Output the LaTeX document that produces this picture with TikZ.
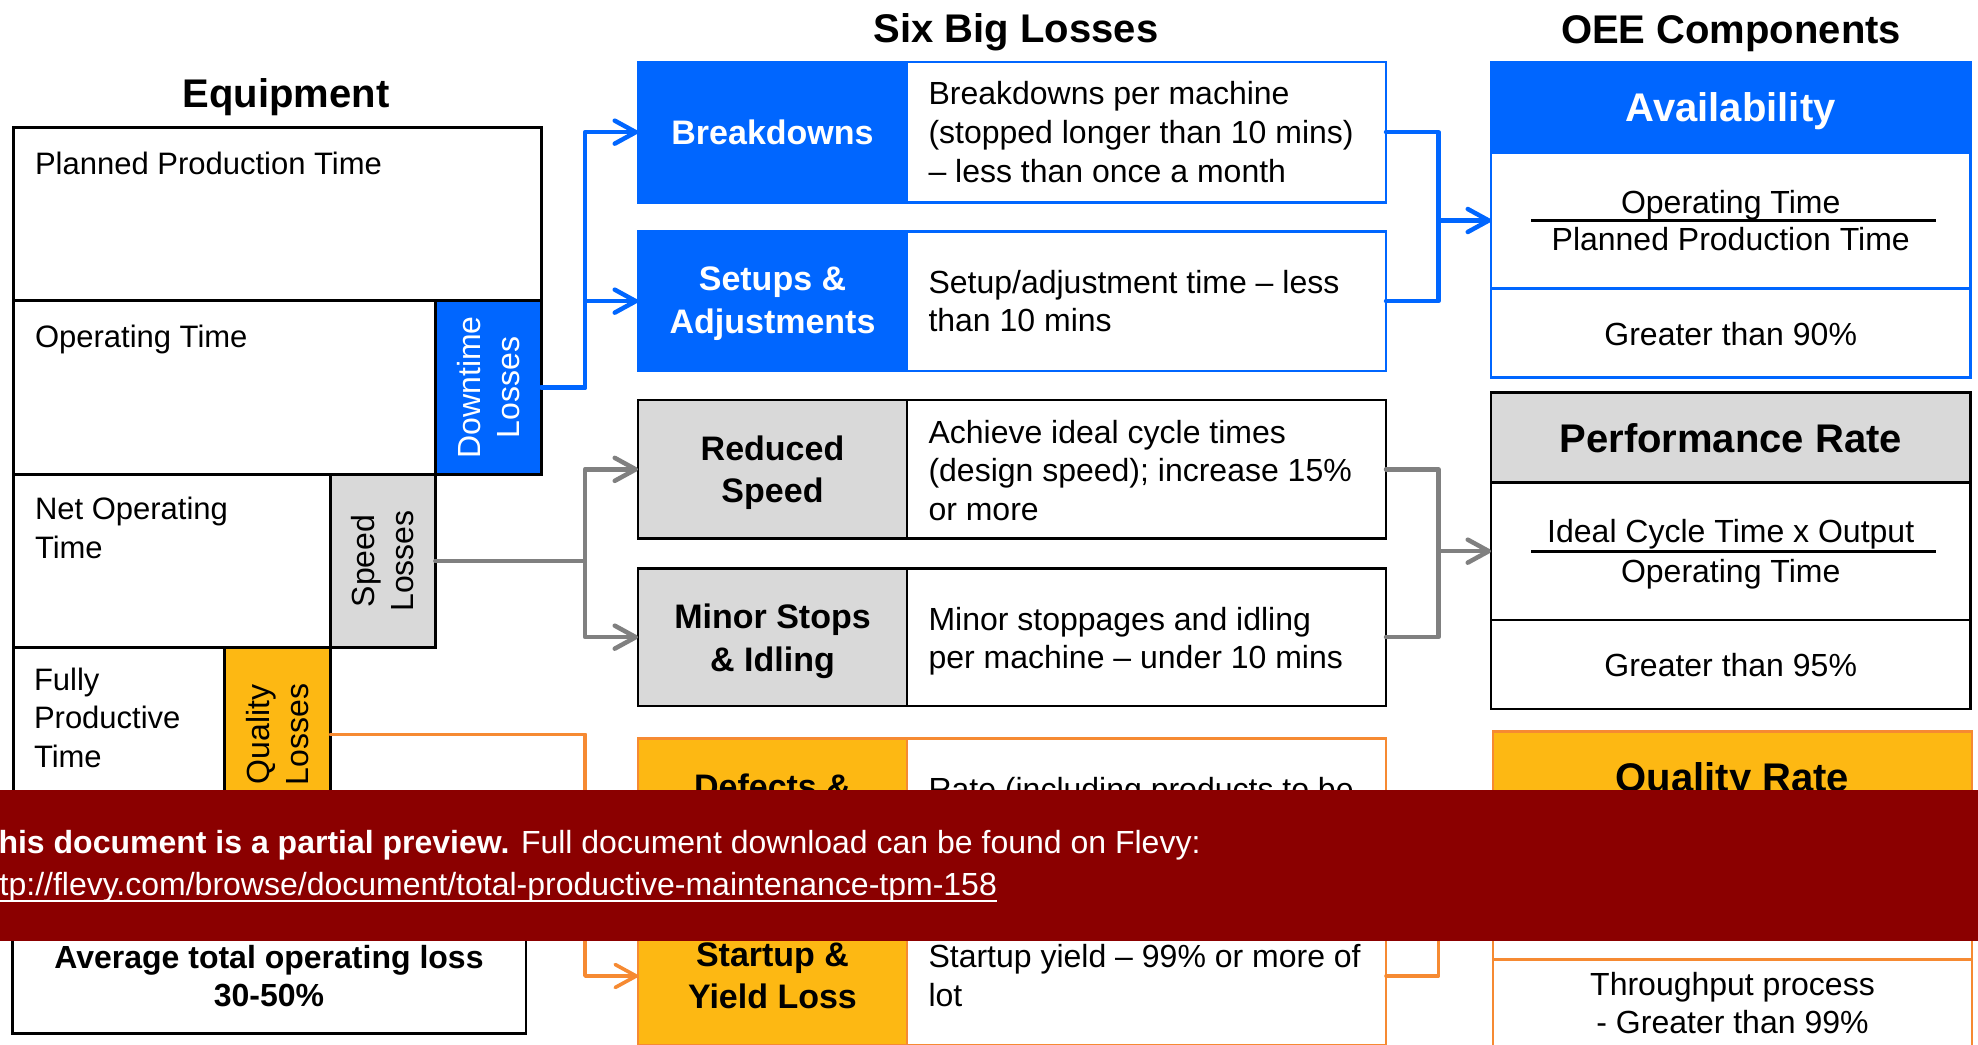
\documentclass[tikz,border=0pt]{standalone}
\usepackage{fontspec}
\setmainfont{Liberation Sans}
\usetikzlibrary{arrows.meta}

\definecolor{oeeblue}{HTML}{0066FF}
\definecolor{lossgrey}{HTML}{D9D9D9}
\definecolor{wiregrey}{HTML}{808080}
\definecolor{lossgold}{HTML}{FDB813}
\definecolor{wireorange}{HTML}{F68A32}
\definecolor{bannerred}{HTML}{8B0000}

\newcommand\bodyfnt{\fontsize{32}{38}\selectfont}
\newcommand\eqfnt{\fontsize{31}{39}\selectfont}
\newcommand\rotfnt{\fontsize{32}{39}\selectfont}
\newcommand\labfnt{\fontsize{34}{42}\selectfont\bfseries}
\newcommand\headfnt{\fontsize{40}{48}\selectfont\bfseries}
% rectangle node from its two corners: name, x1, y1, x2, y2, style
\newcommand\cellbox[6]{\node[#6, minimum width={#4-#2}, minimum height={#5-#3}] (#1) at (#2,#3) {};}

\begin{document}
\begin{tikzpicture}[x=1pt, y=-1pt,
  cell/.style={draw, line width=2.8pt, inner sep=0pt, outer sep=0pt, anchor=north west, fill=white},
  blackcell/.style={cell, draw=black},
  bluecell/.style={cell, draw=oeeblue},
  orangecell/.style={cell, draw=wireorange},
  lefttext/.style={inner sep=0pt, outer sep=0pt, anchor=base west},
  midtext/.style={inner sep=0pt, outer sep=0pt, anchor=base},
  wire/.style={line width=4.5pt, line join=round, line cap=round},
  owire/.style={wire, line width=3.6pt, draw=wireorange},
  headtip/.style={-{Straight Barb[length=21pt, width=23pt, round]}},
  fracbar/.style={line width=2.6pt}
]
\useasboundingbox (0,0) rectangle (1978,1044);
\clip (0,0) rectangle (1978,1044);
\fill[white] (0,0) rectangle (1978,1044);

% ---------------- column titles ----------------
\node[midtext, font=\headfnt] (tEq)  at (286,107)   {Equipment};
\node[midtext, font=\headfnt] (tSix) at (1016,42)   {Six Big Losses};
\node[midtext, font=\headfnt] (tOee) at (1731,43)   {OEE Components};

% ---------------- equipment time breakdown ----------------
\cellbox{ppt}{13.5}{127.5}{541.5}{300.5}{blackcell}
\cellbox{opt}{13.5}{300.5}{435.5}{474.3}{blackcell}
\cellbox{dtl}{435.5}{300.5}{541.5}{474.3}{blackcell, fill=oeeblue}
\cellbox{nop}{13.5}{474.3}{330.3}{647.7}{blackcell}
\cellbox{spl}{330.3}{474.3}{435.5}{647.7}{blackcell, fill=lossgrey}
\cellbox{fpt}{13.5}{647.7}{224.5}{821}{blackcell}
\cellbox{qll}{224.5}{647.7}{330.3}{821}{blackcell, fill=lossgold}
\cellbox{avg}{12.5}{880}{526}{1033.3}{blackcell}

\node[lefttext, font=\eqfnt] (pptA) at (35,174)   {Planned Production Time};
\node[lefttext, font=\eqfnt] (optA) at (35,347.5) {Operating Time};
\node[lefttext, font=\eqfnt] (nopA) at (35,519.5) {Net Operating};
\node[lefttext, font=\eqfnt] (nopB) at (35,558)   {Time};
\node[lefttext, font=\eqfnt] (fptA) at (34,690)   {Fully};
\node[lefttext, font=\eqfnt] (fptB) at (34,728.5) {Productive};
\node[lefttext, font=\eqfnt] (fptC) at (34,767)   {Time};

\node[rotate=90, align=center, font=\rotfnt, text=white, inner sep=0pt] (dtlT) at (dtl.center) {Downtime\\Losses};
\node[rotate=90, align=center, font=\rotfnt, inner sep=0pt] (splT) at (spl.center) {Speed\\Losses};
\node[rotate=90, align=center, font=\rotfnt, inner sep=0pt] (qllT) at (qll.center) {Quality\\Losses};

\node[midtext, font=\bodyfnt\bfseries] (avgA) at (269,968.3)  {Average total operating loss};
\node[midtext, font=\bodyfnt\bfseries] (avgB) at (269,1006.7) {30-50\%};

% ---------------- six big losses ----------------
\cellbox{brkL}{638}{62}{907}{202.3}{bluecell, fill=oeeblue}
\cellbox{brkD}{907}{62}{1386}{202.3}{bluecell}
\cellbox{setL}{638}{231.3}{907}{371}{bluecell, fill=oeeblue}
\cellbox{setD}{907}{231.3}{1386}{371}{bluecell}
\cellbox{redL}{638}{400}{907}{538.7}{blackcell, fill=lossgrey}
\cellbox{redD}{907}{400}{1386}{538.7}{blackcell}
\cellbox{minL}{638}{568.3}{907}{706}{blackcell, fill=lossgrey}
\cellbox{minD}{907}{568.3}{1386}{706}{blackcell}
\cellbox{defL}{638}{738.3}{907}{876}{orangecell, fill=lossgold}
\cellbox{defD}{907}{738.3}{1386}{876}{orangecell}
\cellbox{supL}{638}{907}{907}{1045}{orangecell, fill=lossgold}
\cellbox{supD}{907}{907}{1386}{1045}{orangecell}

\node[midtext, font=\labfnt, text=white] (brkT)  at (772.5,144)   {Breakdowns};
\node[midtext, font=\labfnt, text=white] (setT1) at (772.5,290.7) {Setups \&};
\node[midtext, font=\labfnt, text=white] (setT2) at (772.5,333.3) {Adjustments};
\node[midtext, font=\labfnt] (redT1) at (772.5,460.7) {Reduced};
\node[midtext, font=\labfnt] (redT2) at (772.5,502.7) {Speed};
\node[midtext, font=\labfnt] (minT1) at (772.5,628.3) {Minor Stops};
\node[midtext, font=\labfnt] (minT2) at (772.5,671.7) {\& Idling};
\node[midtext, font=\labfnt] (defT1) at (772.5,798)   {Defects \&};
\node[midtext, font=\labfnt] (supT1) at (772.5,966.7) {Startup \&};
\node[midtext, font=\labfnt] (supT2) at (772.5,1008.3) {Yield Loss};

\node[lefttext, font=\bodyfnt] (brkA) at (928.5,104)   {Breakdowns per machine};
\node[lefttext, font=\bodyfnt] (brkB) at (928.5,143.3) {(stopped longer than 10 mins)};
\node[lefttext, font=\bodyfnt] (brkC) at (928.5,182.7) {-- less than once a month};
\node[lefttext, font=\bodyfnt] (setA) at (928.5,293.3) {Setup/adjustment time -- less};
\node[lefttext, font=\bodyfnt] (setB) at (928.5,331.7) {than 10 mins};
\node[lefttext, font=\bodyfnt] (redA) at (928.5,443.5) {Achieve ideal cycle times};
\node[lefttext, font=\bodyfnt] (redB) at (928.5,481.5) {(design speed); increase 15\%};
\node[lefttext, font=\bodyfnt] (redC) at (928.5,520.5) {or more};
\node[lefttext, font=\bodyfnt] (minA) at (928.5,630)   {Minor stoppages and idling};
\node[lefttext, font=\bodyfnt] (minB) at (928.5,668)   {per machine -- under 10 mins};
\node[lefttext, font=\bodyfnt] (defA) at (928.5,800)   {Rate (including products to be};
\node[lefttext, font=\bodyfnt] (supA) at (928.5,967.5) {Startup yield -- 99\% or more of};
\node[lefttext, font=\bodyfnt] (supB) at (928.5,1006.5) {lot};

% ---------------- OEE components ----------------
\cellbox{avH}{1491}{62}{1970.5}{152.7}{bluecell, fill=oeeblue}
\cellbox{avF}{1491}{152.7}{1970.5}{288.3}{bluecell}
\cellbox{avG}{1491}{288.3}{1970.5}{377.7}{bluecell}
\cellbox{pfH}{1491}{392.7}{1970.5}{482.3}{blackcell, fill=lossgrey}
\cellbox{pfF}{1491}{482.3}{1970.5}{620}{blackcell}
\cellbox{pfG}{1491}{620}{1970.5}{709}{blackcell}
\cellbox{qrH}{1493}{731.7}{1972}{821}{orangecell, fill=lossgold}
\cellbox{qrF}{1493}{821}{1972}{959.3}{orangecell}
\cellbox{qrG}{1493}{959.3}{1972}{1049}{orangecell}

\node[midtext, font=\headfnt, text=white] (avHT) at (1730.7,121) {Availability};
\node[midtext, font=\bodyfnt] (avFA) at (1730.7,213)   {Operating Time};
\node[midtext, font=\bodyfnt] (avFB) at (1730.7,250.7) {Planned Production Time};
\draw[fracbar] (1531,220.3) -- (1936,220.3);
\node[midtext, font=\bodyfnt] (avGT) at (1730.7,345)   {Greater than 90\%};

\node[midtext, font=\headfnt] (pfHT) at (1730.7,452.3) {Performance Rate};
\node[midtext, font=\bodyfnt] (pfFA) at (1730.7,542)   {Ideal Cycle Time x Output};
\node[midtext, font=\bodyfnt] (pfFB) at (1730.7,582.7) {Operating Time};
\draw[fracbar] (1531,551.5) -- (1936,551.5);
\node[midtext, font=\bodyfnt] (pfGT) at (1730.7,676.7) {Greater than 95\%};

\node[midtext, font=\headfnt] (qrHT) at (1732.5,791.3) {Quality Rate};
\node[midtext, font=\bodyfnt] (qrGA) at (1732.5,995)   {Throughput process};
\node[midtext, font=\bodyfnt] (qrGB) at (1732.5,1033)  {- Greater than 99\%};

% ---------------- connectors ----------------
\draw[wire, draw=oeeblue, headtip] (dtl.east) -- ++(43.5,0) |- (brkL.west);
\draw[wire, draw=oeeblue, headtip] (dtl.east) -- ++(43.5,0) |- (setL.west);
\draw[wire, draw=oeeblue] (brkD.east) -- ++(52.5,0) |- (setD.east);
\draw[wire, draw=oeeblue, headtip] ([xshift=-52.5pt]avF.west) -- (avF.west);

\draw[wire, draw=wiregrey, headtip] (spl.east) -- ++(149.5,0) |- (redL.west);
\draw[wire, draw=wiregrey, headtip] (spl.east) -- ++(149.5,0) |- (minL.west);
\draw[wire, draw=wiregrey] (redD.east) -- ++(52.5,0) |- (minD.east);
\draw[wire, draw=wiregrey, headtip] ([xshift=-52.5pt]pfF.west) -- (pfF.west);

\draw[owire, headtip] (qll.east) -- ++(254.7,0) |- (defL.west);
\draw[owire, headtip] (qll.east) -- ++(254.7,0) |- (supL.west);
\draw[owire] (defD.east) -- ++(52.5,0) |- (supD.east);
\draw[owire, headtip] ([xshift=-54.5pt]qrF.west) -- (qrF.west);

% ---------------- preview banner ----------------
\cellbox{banner}{-5}{789.5}{1990}{941}{cell, draw=none, fill=bannerred}
\node[lefttext, font=\bodyfnt\bfseries, text=white] (bnA) at (-21,853.3) {This document is a partial preview.};
\node[lefttext, font=\bodyfnt, text=white] (bnB) at (521,853.3) {Full document download can be found on Flevy:};
\node[lefttext, font=\bodyfnt, text=white] (bnC) at (-27,895) {http://flevy.com/browse/document/total-productive-maintenance-tpm-158};
\draw[white, line width=1.6pt] ([yshift=-5.7pt]bnC.base west) -- ([yshift=-5.7pt]bnC.base east);
\end{tikzpicture}
\end{document}
